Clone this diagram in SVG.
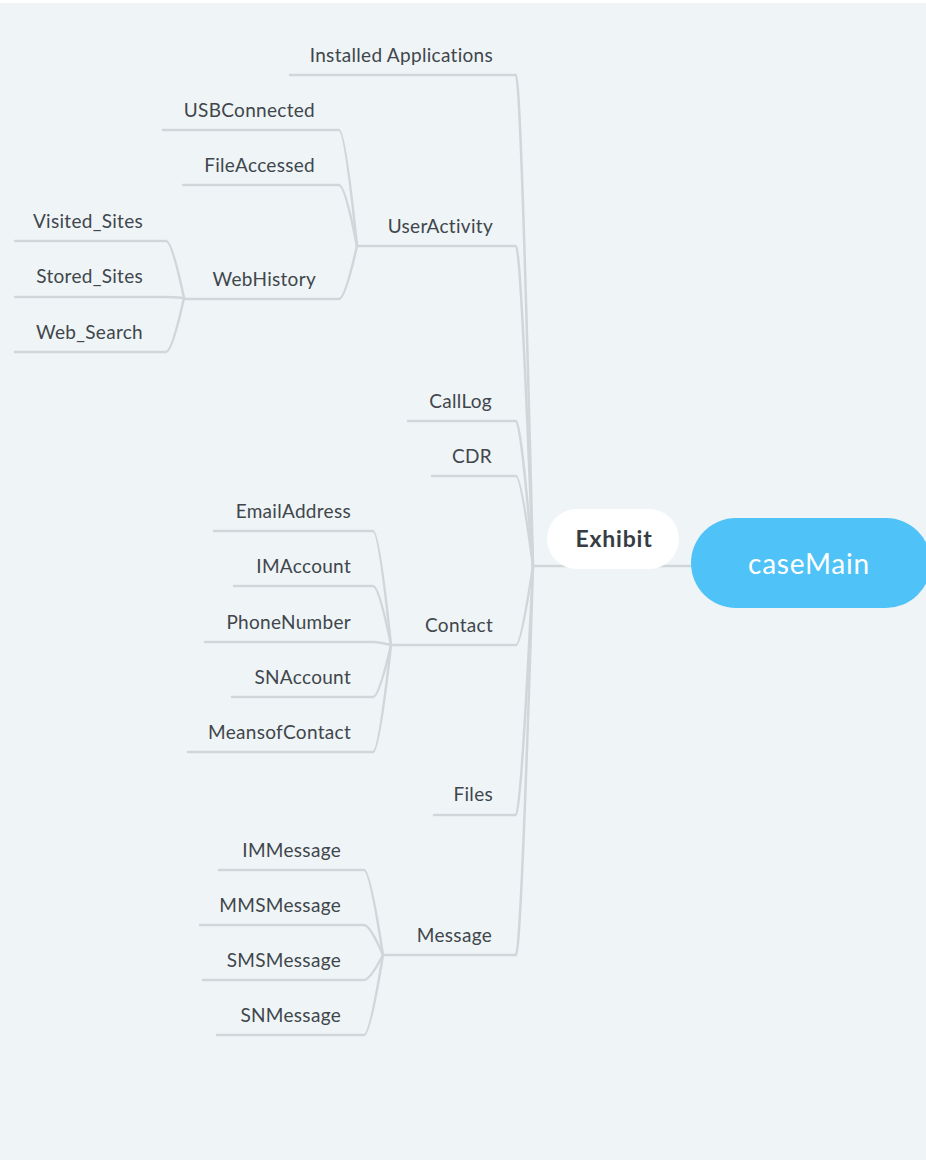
<svg xmlns="http://www.w3.org/2000/svg" width="926" height="1160" viewBox="0 0 926 1160">
<style>
.bg{fill:#eff4f7}
.ln{fill:none;stroke:#d1d6da;stroke-width:2.5;stroke-linecap:round}
.t{font-family:Lato,"Noto Sans",sans-serif;font-size:19px;letter-spacing:0.3px;fill:#40464b;text-anchor:end}
.ex{font-family:Lato,"Noto Sans",sans-serif;font-size:23px;letter-spacing:0.8px;font-weight:bold;fill:#353d43;text-anchor:middle}
.cm{font-family:Lato,"Noto Sans",sans-serif;font-size:28px;letter-spacing:0.8px;fill:#ffffff;text-anchor:middle}
</style>
<rect class="bg" x="0" y="0" width="926" height="1160"/>
<rect x="0" y="0" width="926" height="3" fill="#ffffff"/>
<g id="connectors">
<path class="ln" d="M533 566 L691 566"/>
<path class="ln" d="M533 566 Q521 75 516 75 L290 75"/>
<path class="ln" d="M533 566 Q521 246 516 246 L357 246"/>
<path class="ln" d="M533 566 Q521 421 516 421 L408 421"/>
<path class="ln" d="M533 566 Q521 476 516 476 L432 476"/>
<path class="ln" d="M533 566 Q521 645 516 645 L391 645"/>
<path class="ln" d="M533 566 Q521 815 516 815 L434 815"/>
<path class="ln" d="M533 566 Q521 955 516 955 L383 955"/>
<path class="ln" d="M357 246 Q345 130 339 130 L163 130"/>
<path class="ln" d="M357 246 Q345 185 339 185 L183 185"/>
<path class="ln" d="M357 246 Q345 299 339 299 L184 299"/>
<path class="ln" d="M184 298 Q172 241 166 241 L15 241"/>
<path class="ln" d="M184 298 Q172 297 166 297 L15 297"/>
<path class="ln" d="M184 298 Q172 352 166 352 L15 352"/>
<path class="ln" d="M391 645 Q379 531 373 531 L214 531"/>
<path class="ln" d="M391 645 Q379 586 373 586 L234 586"/>
<path class="ln" d="M391 645 Q379 642 373 642 L205 642"/>
<path class="ln" d="M391 645 Q379 697 373 697 L232 697"/>
<path class="ln" d="M391 645 Q379 752 373 752 L188 752"/>
<path class="ln" d="M383 955 Q370 870 364 870 L219 870"/>
<path class="ln" d="M383 955 Q370 925 364 925 L200 925"/>
<path class="ln" d="M383 955 Q370 980 364 980 L203 980"/>
<path class="ln" d="M383 955 Q370 1035 364 1035 L217 1035"/>
</g>
<g id="caseMain">
<rect x="691" y="518" width="240" height="90" rx="45" fill="#4fc3f7"/>
<text class="cm" x="809" y="574">caseMain</text>
</g>
<g id="Exhibit">
<rect x="547" y="509" width="132" height="60" rx="30" fill="#ffffff"/>
<text class="ex" x="614" y="547">Exhibit</text>
</g>
<g id="InstalledApplications"><text class="t" x="493" y="62">Installed Applications</text></g>
<g id="UserActivity"><text class="t" x="493" y="233">UserActivity</text></g>
<g id="USBConnected"><text class="t" x="315" y="117">USBConnected</text></g>
<g id="FileAccessed"><text class="t" x="315" y="172">FileAccessed</text></g>
<g id="WebHistory"><text class="t" x="316" y="286">WebHistory</text></g>
<g id="Visited_Sites"><text class="t" x="143" y="228">Visited_Sites</text></g>
<g id="Stored_Sites"><text class="t" x="143" y="283">Stored_Sites</text></g>
<g id="Web_Search"><text class="t" x="143" y="339">Web_Search</text></g>
<g id="CallLog"><text class="t" x="492" y="408">CallLog</text></g>
<g id="CDR"><text class="t" x="492" y="463">CDR</text></g>
<g id="Contact"><text class="t" x="493" y="632">Contact</text></g>
<g id="EmailAddress"><text class="t" x="351" y="518">EmailAddress</text></g>
<g id="IMAccount"><text class="t" x="351" y="573">IMAccount</text></g>
<g id="PhoneNumber"><text class="t" x="351" y="629">PhoneNumber</text></g>
<g id="SNAccount"><text class="t" x="351" y="684">SNAccount</text></g>
<g id="MeansofContact"><text class="t" x="351" y="739">MeansofContact</text></g>
<g id="Files"><text class="t" x="493" y="801">Files</text></g>
<g id="Message"><text class="t" x="492" y="942">Message</text></g>
<g id="IMMessage"><text class="t" x="341" y="857">IMMessage</text></g>
<g id="MMSMessage"><text class="t" x="341" y="912">MMSMessage</text></g>
<g id="SMSMessage"><text class="t" x="341" y="967">SMSMessage</text></g>
<g id="SNMessage"><text class="t" x="341" y="1022">SNMessage</text></g>
</svg>
